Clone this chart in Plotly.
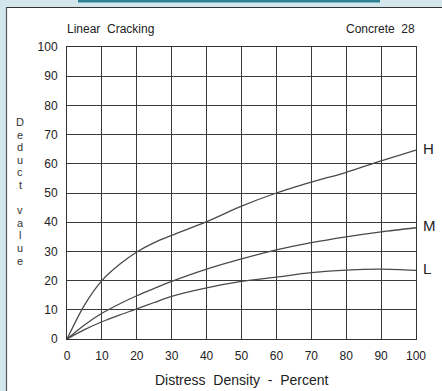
import plotly.graph_objects as go

density = [0, 5, 10, 15, 20, 25, 30, 40, 50, 60, 70, 80, 90, 100]
deduct_H = [0, 11.6, 20, 25.5, 29.8, 33, 35.5, 40.2, 45.5, 50, 53.7, 57.1, 61, 64.7]
deduct_M = [0, 4.8, 8.8, 12, 14.8, 17.3, 19.7, 23.9, 27.4, 30.5, 33, 35, 36.7, 38.1]
deduct_L = [0, 3.2, 5.9, 8.2, 10.3, 12.5, 14.6, 17.5, 19.7, 21.2, 22.7, 23.6, 23.9, 23.5]
severity_labels = ["H", "M", "L"]
x_ticks = [0, 10, 20, 30, 40, 50, 60, 70, 80, 90, 100]
y_ticks = [0, 10, 20, 30, 40, 50, 60, 70, 80, 90, 100]
y_title_chars = list("Deduct") + [""] + list("value")

W, H = 442, 391
L_M, R_M, T_M, B_M = 67, 26, 47, 52
PW, PH = W - L_M - R_M, H - T_M - B_M

def px(x):
    return (x - L_M) / PW

def py(y):
    return (H - B_M - y) / PH

FONT = "Liberation Sans, Arial, sans-serif"
fig = go.Figure()
for ys in (deduct_H, deduct_M, deduct_L):
    fig.add_trace(go.Scatter(x=density, y=ys, mode="lines",
                             line=dict(color="#4a4a4a", width=1.3, shape="spline", smoothing=0.8),
                             hoverinfo="skip", showlegend=False))

annotations = []
for lab, ys in zip(severity_labels, (deduct_H, deduct_M, deduct_L)):
    annotations.append(dict(x=100, y=ys[-1], xref="x", yref="y", text=lab, showarrow=False,
                            xanchor="left", xshift=5, yshift=2, font=dict(family=FONT, size=15, color="#222")))
annotations.append(dict(x=px(65), y=py(29), xref="paper", yref="paper", text="Linear&nbsp;&nbsp;Cracking",
                        showarrow=False, xanchor="left", yanchor="middle", font=dict(family=FONT, size=12, color="#222")))
annotations.append(dict(x=px(417), y=py(29), xref="paper", yref="paper", text="Concrete&nbsp;&nbsp;28",
                        showarrow=False, xanchor="right", yanchor="middle", font=dict(family=FONT, size=12, color="#222")))
annotations.append(dict(x=px(242), y=py(380), xref="paper", yref="paper",
                        text="Distress&nbsp;&nbsp;Density&nbsp;&nbsp;-&nbsp;&nbsp;Percent",
                        showarrow=False, xanchor="center", yanchor="middle", font=dict(family=FONT, size=14, color="#222")))
for i, ch in enumerate(y_title_chars):
    if ch:
        annotations.append(dict(x=px(20), y=py(122 + i * 12.6), xref="paper", yref="paper", text=ch,
                                showarrow=False, xanchor="center", yanchor="middle",
                                font=dict(family=FONT, size=11, color="#333")))

shapes = [
    dict(type="rect", xref="paper", yref="paper", x0=px(0), x1=px(W), y0=py(0), y1=py(7),
         fillcolor="#d3e6ec", line=dict(width=0), layer="below"),
    dict(type="rect", xref="paper", yref="paper", x0=px(0), x1=px(6), y0=py(0), y1=py(H),
         fillcolor="#d3e6ec", line=dict(width=0), layer="below"),
    dict(type="rect", xref="paper", yref="paper", x0=px(78), x1=px(380), y0=py(0), y1=py(2.5),
         fillcolor="#2f8196", line=dict(width=0)),
    dict(type="line", xref="paper", yref="paper", x0=px(6), x1=px(W), y0=py(7.5), y1=py(7.5),
         line=dict(color="#333", width=1.2)),
    dict(type="line", xref="paper", yref="paper", x0=px(6.5), x1=px(6.5), y0=py(7), y1=py(H),
         line=dict(color="#555", width=1.2)),
]

fig.update_layout(
    width=W, height=H, margin=dict(l=L_M, r=R_M, t=T_M, b=B_M),
    paper_bgcolor="white", plot_bgcolor="white",
    annotations=annotations, shapes=shapes,
    xaxis=dict(range=[0, 100], tickvals=x_ticks, showgrid=True, gridcolor="#3a3a3a", gridwidth=1,
               zeroline=False, showline=True, linecolor="#333", linewidth=1, mirror=True,
               ticks="outside", ticklen=6, tickcolor="rgba(0,0,0,0)",
               tickfont=dict(family=FONT, size=12, color="#222"), fixedrange=True),
    yaxis=dict(range=[0, 100], tickvals=y_ticks, showgrid=True, gridcolor="#3a3a3a", gridwidth=1,
               zeroline=False, showline=True, linecolor="#333", linewidth=1, mirror=True,
               ticks="outside", ticklen=6, tickcolor="rgba(0,0,0,0)",
               tickfont=dict(family=FONT, size=12, color="#222"), fixedrange=True),
)

fig.write_html("out.html", config={"displayModeBar": False},
               post_script="document.body.style.margin='0';document.body.style.overflow='hidden';")
